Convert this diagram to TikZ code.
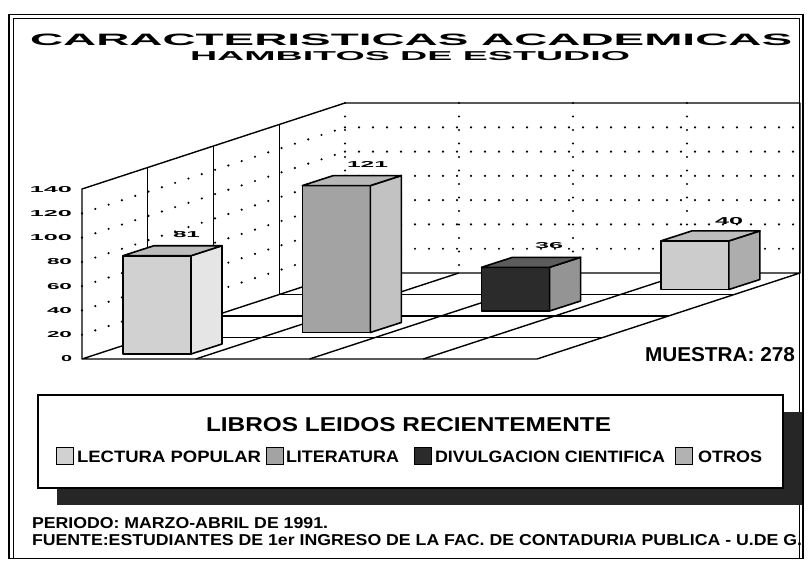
\documentclass[tikz,border=0pt]{standalone}
\usepackage{fontspec}
\setmainfont{Liberation Sans}
\usepackage{graphicx}
\newcommand\ftext[3]{\resizebox{#1pt}{#2pt}{\bfseries #3}}
\definecolor{bAf}{gray}{0.82}\definecolor{bAs}{gray}{0.90}\definecolor{bAt}{gray}{0.74}
\definecolor{bBf}{gray}{0.64}\definecolor{bBs}{gray}{0.76}\definecolor{bBt}{gray}{0.72}
\definecolor{bCf}{gray}{0.17}\definecolor{bCs}{gray}{0.58}\definecolor{bCt}{gray}{0.36}
\definecolor{bDf}{gray}{0.80}\definecolor{bDs}{gray}{0.68}\definecolor{bDt}{gray}{0.74}
\definecolor{bEf}{gray}{0.70}
\definecolor{shadowc}{gray}{0.15}
\newcommand\cubebar[6]{%
  \filldraw[barline, fill=#4] (#1,#2) rectangle ++(68,-#3);
  \filldraw[barline, fill=#5] (#1+68,#2) -- ++(31,-10) -- ++(0,-#3) -- ++(-31,10) -- cycle;
  \filldraw[barline, fill=#6] (#1,#2-#3) -- ++(31,-10) -- ++(68,0) -- ++(-31,10) -- cycle;
}
\begin{document}
\begin{tikzpicture}[x=1pt,y=-1pt,
  txt/.style={inner sep=0pt, outer sep=0pt},
  chart/.style={line width=1.4pt, line join=round},
  dotl/.style={line width=2.4pt, line cap=round, dash pattern=on 0pt off 14pt},
  dotv/.style={line width=2.4pt, line cap=round, dash pattern=on 0pt off 13.5pt},
  barline/.style={line width=1.6pt, line join=round},
  sw/.style={draw, line width=1pt, minimum width=17pt, minimum height=17pt, inner sep=0pt}]
\useasboundingbox (0,0) rectangle (809,562);
\fill[white] (0,0) rectangle (809,562);
% frame
\draw[line width=1.6pt] (9,14.5) rectangle (803,558.5);
\draw[line width=1pt] (13,558.5) -- (13,18.5) -- (799,18.5) -- (799,558.5);
% titles
\node[txt, anchor=south west] (title) at (30,45.5) {\ftext{762}{11.5}{CARACTERISTICAS ACADEMICAS}};
\node[txt, anchor=south west] (subtitle) at (190,60.5) {\ftext{440}{9}{HAMBITOS DE ESTUDIO}};
% dotted grid
\foreach \v in {20,40,...,120} {
  \draw[dotl] (82,{359-1.214*\v}) -- (345,{273-1.214*\v});
  \draw[dotl] (345,{273-1.214*\v}) -- (800,{273-1.214*\v});
}
\foreach \x in {345,459,573,687} \draw[dotv] (\x,103) -- (\x,273);
% walls
\draw[chart] (82,359) -- (82,189) -- (345,103) -- (800,103) -- (800,273);
\foreach \f in {0.25,0.5,0.75} \draw[chart] ({82+263*\f},{359-86*\f}) -- ({82+263*\f},{189-86*\f});
% floor
\draw[chart] (82,359) -- (537,359) -- (800,273) -- (345,273) -- cycle;
\foreach \f in {0.25,0.5,0.75} \draw[chart] ({82+263*\f},{359-86*\f}) -- ({537+263*\f},{359-86*\f});
\foreach \k in {1,2,3} \draw[chart] ({82+113.75*\k},359) -- ({345+113.75*\k},273);
% axis labels
\foreach \v/\w in {0/11,20/25,40/25,60/25,80/25,100/42,120/42,140/42}
  \node[txt, anchor=east] (ylab\v) at (72,{359-1.214*\v}) {\ftext{\w}{6}{\v}};
% bars
\cubebar{660.9}{289.5}{48.6}{bDf}{bDs}{bDt}
\cubebar{481.6}{311}{43.7}{bCf}{bCs}{bCt}
\cubebar{302.3}{332.5}{146.9}{bBf}{bBs}{bBt}
\cubebar{123}{354}{98.3}{bAf}{bAs}{bAt}
% value labels
\node[txt, anchor=south west] (v81) at (173,238) {\ftext{27}{6}{81}};
\node[txt, anchor=south west] (v121) at (347,167) {\ftext{41}{6}{121}};
\node[txt, anchor=south west] (v36) at (535,249) {\ftext{28}{6}{36}};
\node[txt, anchor=south west] (v40) at (715,224.5) {\ftext{28}{7}{40}};
\node[txt, anchor=south west] (muestra) at (645,362) {\ftext{150}{14}{MUESTRA: 278}};
% legend
\fill[shadowc] (57,412) rectangle (802,505);
\filldraw[fill=white, line width=1.8pt] (38,395) rectangle (783,488);
\node[txt, anchor=south west] (legtitle) at (206,432) {\ftext{405}{14}{LIBROS LEIDOS RECIENTEMENTE}};
\node[sw, fill=bAf] (sw1) at (64.5,455.5) {};
\node[txt, anchor=south west] (lg1) at (77,463) {\ftext{184}{11.5}{LECTURA POPULAR}};
\node[sw, fill=bBf] (sw2) at (274.5,455.5) {};
\node[txt, anchor=south west] (lg2) at (286,463) {\ftext{113}{11.5}{LITERATURA}};
\node[sw, fill=bCf] (sw3) at (422.5,455.5) {};
\node[txt, anchor=south west] (lg3) at (435,463) {\ftext{230}{11.5}{DIVULGACION CIENTIFICA}};
\node[sw, fill=bEf] (sw4) at (683.5,455.5) {};
\node[txt, anchor=south west] (lg4) at (698,463) {\ftext{64}{11.5}{OTROS}};
% footer
\node[txt, anchor=south west] (periodo) at (32,529) {\ftext{296}{11}{PERIODO: MARZO-ABRIL DE 1991.}};
\node[txt, anchor=south west] (fuente) at (32,546) {\ftext{770}{11}{FUENTE:ESTUDIANTES DE 1er INGRESO DE LA FAC. DE CONTADURIA PUBLICA - U.DE G.}};
\end{tikzpicture}
\end{document}
